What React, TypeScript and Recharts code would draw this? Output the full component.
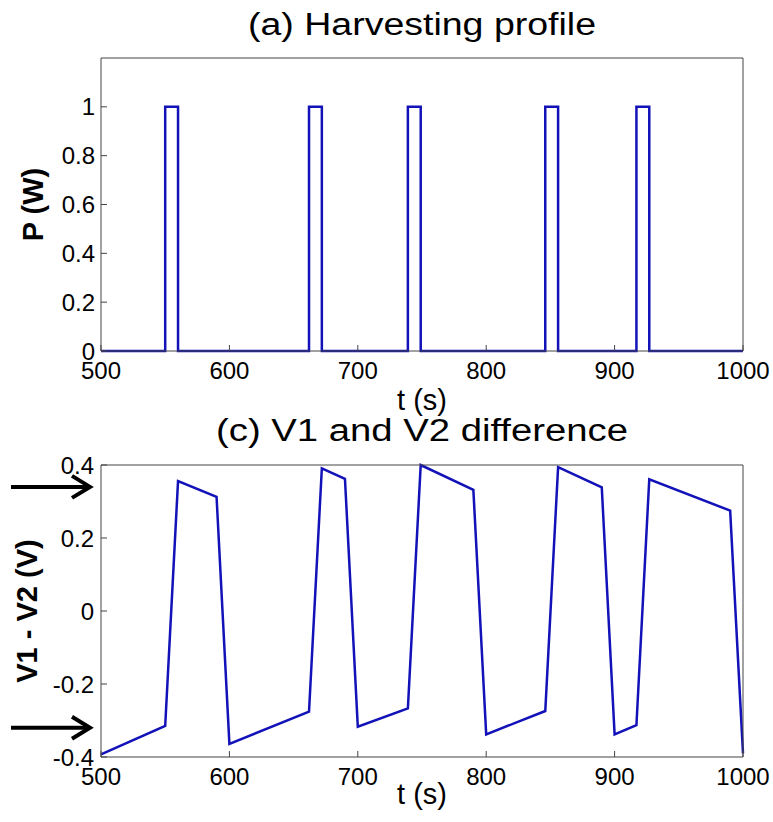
import React from 'react';
import { LineChart, Line, XAxis, YAxis, ReferenceLine } from 'recharts';

// ---------- data ----------
const tTicks = [500, 600, 700, 800, 900, 1000];
const pTicks = [0, 0.2, 0.4, 0.6, 0.8, 1];
const pulseStart = [550, 662, 739, 846, 917];
const pulseEnd = [560, 672, 749, 856, 927];
const pulseLevel = 1;

const dvTime = [500, 550, 560, 590, 600, 662, 672, 690, 700, 739, 749, 790, 800, 846, 856, 890, 900, 917, 927, 990, 1000];
const dvValue = [-0.393, -0.315, 0.356, 0.313, -0.364, -0.276, 0.391, 0.362, -0.317, -0.267, 0.4, 0.332, -0.338, -0.274, 0.394, 0.339, -0.338, -0.313, 0.361, 0.275, -0.39];
const dvTicks = [-0.4, -0.2, 0, 0.2, 0.4];
const arrowLevels = [0.34, -0.32];

// ---------- tables built from arrays ----------
const powerData: { t: number; p: number }[] = [{ t: 500, p: 0 }];
pulseStart.forEach((s, i) => {
  powerData.push({ t: s, p: 0 }, { t: s, p: pulseLevel }, { t: pulseEnd[i], p: pulseLevel }, { t: pulseEnd[i], p: 0 });
});
powerData.push({ t: 1000, p: 0 });

const dvData = dvTime.map((t, i) => ({ t, v: dvValue[i] }));

// ---------- styles ----------
const FONT = '"Liberation Sans", Arial, Helvetica, sans-serif';
const AXIS = '#444';
const LINE = '#1212b8';
const tickStyle = { fill: '#000', fontSize: 24, fontFamily: FONT };

const fmt = (v: number) => String(v);

const titleLabel = (text: string, dy: number, len: number) => (props: any) => {
  const vb = props.viewBox || {};
  return (
    <text x={vb.x + vb.width / 2} y={vb.y + dy} textAnchor="middle" fontSize={31} fontFamily={FONT} fill="#000" textLength={len} lengthAdjust="spacingAndGlyphs">
      {text}
    </text>
  );
};

const xLabel = (text: string, dy: number) => (props: any) => {
  const vb = props.viewBox || {};
  return (
    <text x={vb.x + vb.width / 2} y={vb.y + dy} textAnchor="middle" fontSize={29} fontFamily={FONT} fill="#000">
      {text}
    </text>
  );
};

const yLabel = (text: string, dx: number) => (props: any) => {
  const vb = props.viewBox || {};
  const cx = vb.x + vb.width - dx;
  const cy = vb.y + vb.height / 2;
  return (
    <text x={cx} y={cy} textAnchor="middle" fontSize={29} fontWeight="bold" fontFamily={FONT} fill="#000" transform={`rotate(-90, ${cx}, ${cy})`}>
      {text}
    </text>
  );
};

const arrowShape = (props: any) => {
  const left = Math.min(props.x1, props.x2);
  const y = props.y1;
  const tip = left - 11;
  const tail = left - 90;
  return (
    <g>
      <line x1={tail} y1={y} x2={tip} y2={y} stroke="#000" strokeWidth={4} />
      <polyline points={`${tip - 18},${y - 11} ${tip},${y} ${tip - 18},${y + 11}`} fill="none" stroke="#000" strokeWidth={4} />
    </g>
  );
};

export default function App() {
  return (
    <div style={{ position: 'absolute', left: 0, top: 0, width: 773, height: 822, background: '#fff', overflow: 'hidden' }}>
      <div style={{ position: 'absolute', left: 0, top: 0 }}>
        <LineChart width={773} height={420} data={powerData} margin={{ top: 57, right: 29, bottom: 29, left: 41 }}>
          <XAxis dataKey="t" type="number" domain={[500, 1000]} ticks={tTicks} tickFormatter={fmt} tick={tickStyle}
            tickSize={-6} tickMargin={17} stroke={AXIS} height={40} interval={0} label={xLabel('t (s)', 59)} />
          <XAxis xAxisId="top" dataKey="t" orientation="top" type="number" domain={[500, 1000]} ticks={tTicks} tick={false}
            tickSize={-6} stroke={AXIS} height={1} interval={0} label={titleLabel('(a) Harvesting profile', -22, 348)} />
          <YAxis type="number" domain={[0, 1.2]} ticks={pTicks} tickFormatter={fmt} tick={tickStyle}
            tickSize={-6} tickMargin={12} stroke={AXIS} width={60} interval={0} label={yLabel('P (W)', 58)} />
          <YAxis yAxisId="right" orientation="right" type="number" domain={[0, 1.2]} ticks={pTicks} tick={false}
            tickSize={-6} stroke={AXIS} width={1} interval={0} />
          <Line xAxisId="top" yAxisId="right" type="linear" dataKey="p" stroke="none" strokeWidth={0} dot={false} activeDot={false} isAnimationActive={false} legendType="none" />
          <Line type="linear" dataKey="p" stroke={LINE} strokeWidth={2.5} dot={false} isAnimationActive={false} strokeLinejoin="miter" />
        </LineChart>
      </div>
      <div style={{ position: 'absolute', left: 0, top: 411 }}>
        <LineChart width={773} height={411} data={dvData} margin={{ top: 53, right: 29, bottom: 25, left: 41 }}>
          <XAxis dataKey="t" type="number" domain={[500, 1000]} ticks={tTicks} tickFormatter={fmt} tick={tickStyle}
            tickSize={-6} tickMargin={17} stroke={AXIS} height={40} interval={0} label={xLabel('t (s)', 47)} />
          <XAxis xAxisId="top" dataKey="t" orientation="top" type="number" domain={[500, 1000]} ticks={tTicks} tick={false}
            tickSize={-6} stroke={AXIS} height={1} interval={0} label={titleLabel('(c) V1 and V2 difference', -23, 412)} />
          <YAxis type="number" domain={[-0.4, 0.4]} ticks={dvTicks} tickFormatter={fmt} tick={tickStyle}
            tickSize={-6} tickMargin={13} stroke={AXIS} width={60} interval={0} label={yLabel('V1 - V2 (V)', 64)} />
          <YAxis yAxisId="right" orientation="right" type="number" domain={[-0.4, 0.4]} ticks={dvTicks} tick={false}
            tickSize={-6} stroke={AXIS} width={1} interval={0} />
          {arrowLevels.map((lv) => (
            <ReferenceLine key={lv} y={lv} shape={arrowShape} />
          ))}
          <Line xAxisId="top" yAxisId="right" type="linear" dataKey="v" stroke="none" strokeWidth={0} dot={false} activeDot={false} isAnimationActive={false} legendType="none" />
          <Line type="linear" dataKey="v" stroke={LINE} strokeWidth={2.5} dot={false} isAnimationActive={false} />
        </LineChart>
      </div>
    </div>
  );
}
